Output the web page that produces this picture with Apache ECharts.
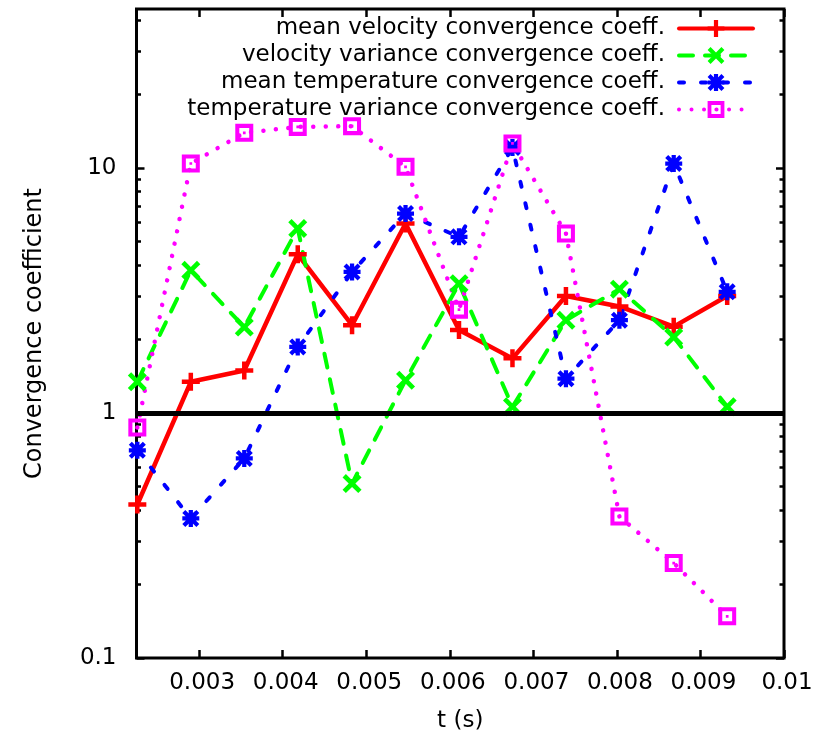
<!DOCTYPE html>
<html>
<head>
<meta charset="utf-8">
<script src="https://cdn.jsdelivr.net/npm/echarts@6/dist/echarts.min.js"></script>
<style>
  html, body { margin: 0; padding: 0; background: #fff; }
  #chart { width: 816px; height: 738px; }
</style>
</head>
<body>
<div id="chart"></div>
<script>
// Sample times (s)
const tValues = [0.00226, 0.00290, 0.00354, 0.00418, 0.00483, 0.00547, 0.00611, 0.00675, 0.00739, 0.00803, 0.00868, 0.00932];

// Convergence coefficients per quantity
const meanVelocity        = [0.423, 1.34, 1.49, 4.44, 2.28, 5.93, 2.18, 1.67, 3.00, 2.72, 2.25, 3.00];
const velocityVariance    = [1.34, 3.82, 2.24, 5.66, 0.515, 1.36, 3.37, 1.06, 2.39, 3.20, 2.04, 1.06];
const meanTemperature     = [0.704, 0.371, 0.652, 1.86, 3.76, 6.51, 5.23, 12.1, 1.38, 2.39, 10.42, 3.12];
const temperatureVariance = [0.872, 10.42, 13.9, 14.7, 14.8, 10.1, 2.64, 12.58, 5.40, 0.378, 0.244, 0.148];

const seriesNames = [
  'mean velocity convergence coeff.',
  'velocity variance convergence coeff.',
  'mean temperature convergence coeff.',
  'temperature variance convergence coeff.'
];

// Axis ticks
const xTicks = [0.003, 0.004, 0.005, 0.006, 0.007, 0.008, 0.009, 0.01];
const yMajorTicks = [0.1, 1, 10];
const yMinorTicks = [0.2, 0.3, 0.4, 0.5, 0.6, 0.7, 0.8, 0.9, 2, 3, 4, 5, 6, 7, 8, 9, 20, 30, 40];
const unityLevel = 1;

const X_MIN = 0.00225, X_MAX = 0.01;
const Y_MIN = 0.1, Y_MAX = 44.5;
const FONT = 'DejaVu Sans';

// Symbol outlines
const PLUS = 'path://M7.5,0 H12.5 V7.5 H20 V12.5 H12.5 V20 H7.5 V12.5 H0 V7.5 H7.5 Z';
const CROSS = 'path://M0,3.5 L3.5,0 L10,6.5 L16.5,0 L20,3.5 L13.5,10 L20,16.5 L16.5,20 L10,13.5 L3.5,20 L0,16.5 L6.5,10 Z';
const STAR = 'path://M7.5,0 H12.5 V7.5 H20 V12.5 H12.5 V20 H7.5 V12.5 H0 V7.5 H7.5 Z ' +
             'M0,3.5 L3.5,0 L10,6.5 L16.5,0 L20,3.5 L13.5,10 L20,16.5 L16.5,20 L10,13.5 L3.5,20 L0,16.5 L6.5,10 Z';
const BOX = 'path://M0,0 H20 V20 H0 Z M4.5,4.5 V15.5 H15.5 V4.5 Z M8.5,8.5 H11.5 V11.5 H8.5 Z';

function pairs(values) {
  return tValues.map((t, i) => [t, values[i]]);
}

function makeSeries(name, values, color, symbol, size, dash, width) {
  return {
    name: name,
    type: 'line',
    data: pairs(values),
    symbol: symbol,
    symbolSize: size,
    showAllSymbol: true,
    clip: false,
    itemStyle: { color: color },
    lineStyle: { color: color, width: width, type: dash, cap: 'round', join: 'round' },
    emphasis: { disabled: true },
    z: 3
  };
}

const series = [
  makeSeries(seriesNames[0], meanVelocity, '#ff0000', PLUS, 18, 'solid', 4.5),
  makeSeries(seriesNames[1], velocityVariance, '#00ff00', CROSS, 19, [14, 12], 4),
  makeSeries(seriesNames[2], meanTemperature, '#0000ff', STAR, 17, [5, 17], 4),
  makeSeries(seriesNames[3], temperatureVariance, '#ff00ff', BOX, 18, [0.01, 12.5], 4.5)
];

// Reference level at a coefficient of 1
series[0].markLine = {
  silent: true,
  symbol: ['none', 'none'],
  label: { show: false },
  lineStyle: { color: '#000', width: 5, type: 'solid' },
  data: [{ yAxis: unityLevel }],
  z: 10,
  animation: false
};

function xAxisDef(pos, showLabels) {
  return {
    type: 'value',
    position: pos,
    min: X_MIN,
    max: X_MAX,
    axisLine: { show: false },
    splitLine: { show: false },
    axisTick: {
      show: true, inside: true, length: 8,
      lineStyle: { color: '#000', width: 2.5 },
      customValues: xTicks
    },
    axisLabel: {
      show: showLabels,
      customValues: xTicks,
      formatter: v => parseFloat(Number(v).toPrecision(4)).toString(),
      fontFamily: FONT, fontSize: 23, color: '#000', margin: 14,
      padding: [0, 0, 0, 6]
    },
    name: showLabels ? 't (s)' : '',
    nameLocation: 'middle',
    nameGap: 52,
    nameTextStyle: { fontFamily: FONT, fontSize: 23, color: '#000' }
  };
}

function yAxisDef(pos, ticks, len, showLabels) {
  return {
    type: 'log',
    logBase: 10,
    position: pos,
    min: Y_MIN,
    max: Y_MAX,
    axisLine: { show: false },
    splitLine: { show: false },
    minorTick: { show: false },
    axisTick: {
      show: true, inside: true, length: len,
      lineStyle: { color: '#000', width: 2.5 },
      customValues: ticks
    },
    axisLabel: {
      show: showLabels,
      customValues: ticks,
      formatter: v => parseFloat(Number(v).toPrecision(4)).toString(),
      fontFamily: FONT, fontSize: 23, color: '#000', margin: 20
    },
    name: showLabels ? 'Convergence coefficient' : '',
    nameLocation: 'middle',
    nameGap: 90,
    nameTextStyle: { fontFamily: FONT, fontSize: 24, color: '#000' }
  };
}

const chart = echarts.init(document.getElementById('chart'), null, { renderer: 'canvas' });
chart.setOption({
  animation: false,
  backgroundColor: '#ffffff',
  grid: {
    left: 136.5, right: 32, top: 9, bottom: 80,
    show: true, borderColor: '#000', borderWidth: 3, backgroundColor: 'transparent'
  },
  legend: {
    orient: 'vertical',
    align: 'right',
    right: 61,
    top: 17,
    padding: 0,
    itemWidth: 74,
    itemHeight: 21,
    itemGap: 4,
    selectedMode: false,
    data: seriesNames,
    textStyle: { fontFamily: FONT, fontSize: 23, color: '#000', padding: [0, 9, 0, 0] },
    lineStyle: { width: 4 }
  },
  xAxis: [xAxisDef('bottom', true), xAxisDef('top', false)],
  yAxis: [
    yAxisDef('left', yMajorTicks, 8, true),
    yAxisDef('left', yMinorTicks, 4.5, false),
    yAxisDef('right', yMajorTicks, 8, false),
    yAxisDef('right', yMinorTicks, 4.5, false)
  ],
  series: series
});
</script>
</body>
</html>
